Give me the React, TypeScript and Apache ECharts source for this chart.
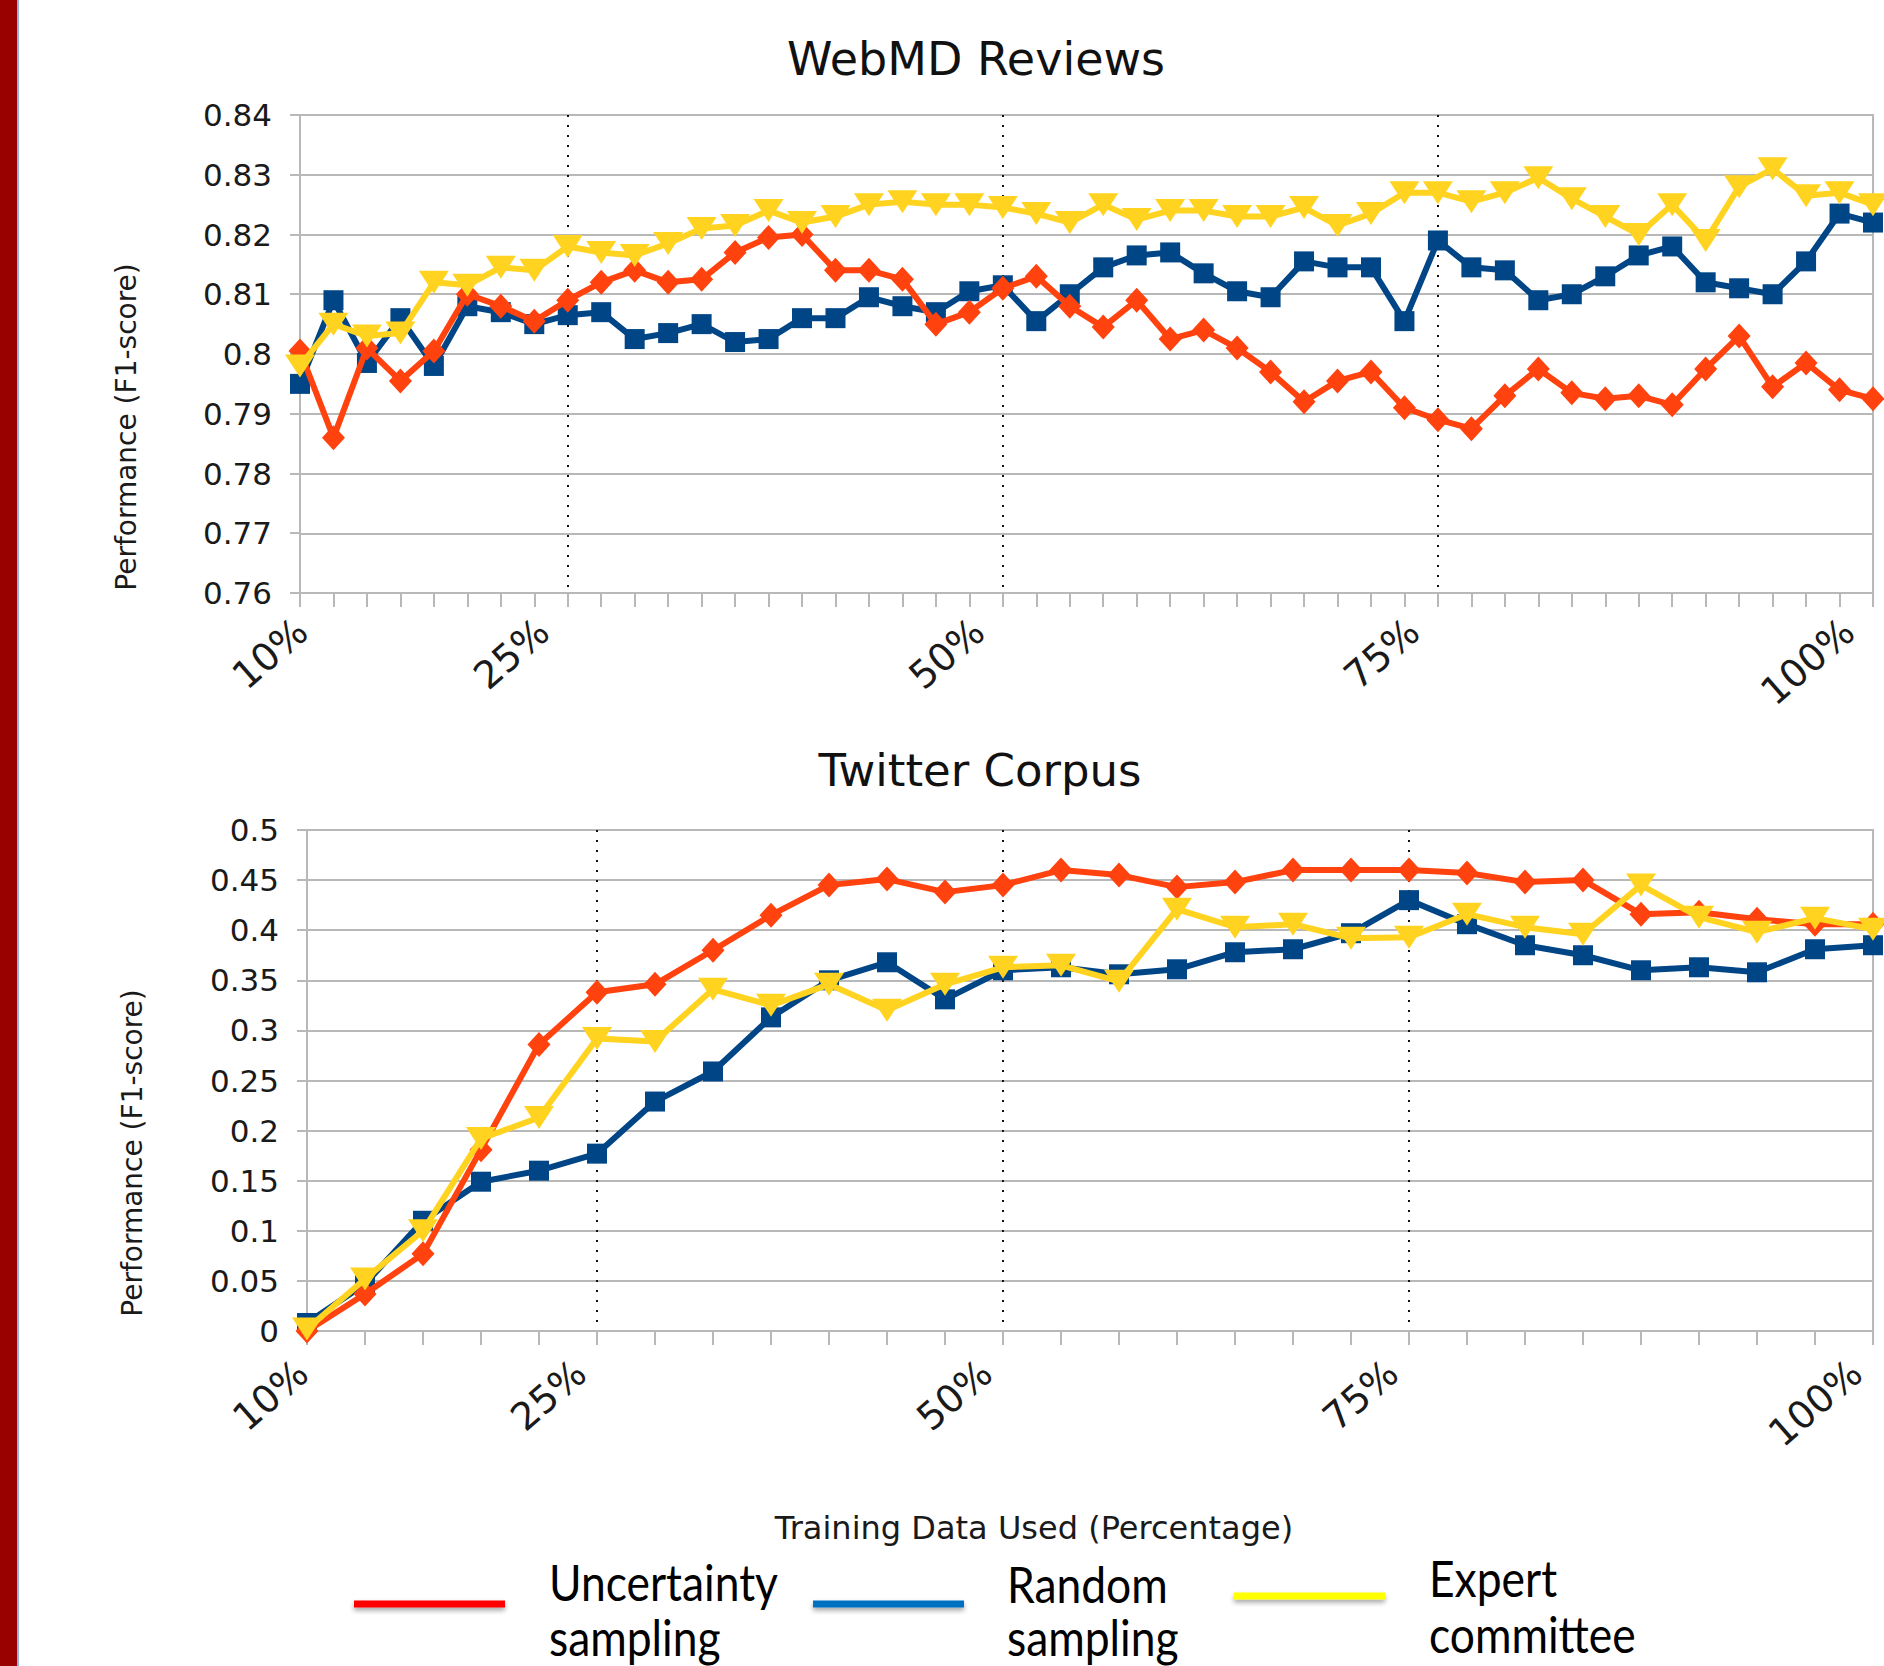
import React, { useEffect, useRef } from "react";
import * as echarts from "echarts";

// ---------- DATA ----------
// WebMD Reviews (48 steps of training data)
const webmdRandom = [
  0.795, 0.809, 0.7985, 0.806, 0.798, 0.808, 0.807, 0.805, 0.8065, 0.807,
  0.8025, 0.8035, 0.805, 0.802, 0.8025, 0.806, 0.806, 0.8095, 0.808, 0.807,
  0.8105, 0.8115, 0.8055, 0.81, 0.8145, 0.8165, 0.817, 0.8135, 0.8105, 0.8095,
  0.8155, 0.8145, 0.8145, 0.8055, 0.819, 0.8145, 0.814, 0.809, 0.81, 0.813,
  0.8165, 0.818, 0.812, 0.811, 0.81, 0.8155, 0.8235, 0.822,
];
const webmdUncertainty = [
  0.8005, 0.786, 0.801, 0.7955, 0.8005, 0.81, 0.808, 0.8055, 0.809, 0.812,
  0.814, 0.812, 0.8125, 0.817, 0.8195, 0.82, 0.814, 0.814, 0.8125, 0.805,
  0.807, 0.811, 0.813, 0.808, 0.8045, 0.809, 0.8025, 0.804, 0.801, 0.797,
  0.792, 0.7955, 0.797, 0.791, 0.789, 0.7875, 0.793, 0.7975, 0.7935, 0.7925,
  0.793, 0.7915, 0.7975, 0.803, 0.7945, 0.7985, 0.794, 0.7925,
];
const webmdExpert = [
  0.798, 0.805, 0.803, 0.8035, 0.812, 0.8115, 0.8145, 0.814, 0.818, 0.817,
  0.8165, 0.8185, 0.821, 0.8215, 0.824, 0.822, 0.823, 0.825, 0.8255, 0.825,
  0.825, 0.8245, 0.8235, 0.822, 0.825, 0.8225, 0.824, 0.824, 0.823, 0.823,
  0.8245, 0.8215, 0.8235, 0.827, 0.827, 0.8255, 0.827, 0.8295, 0.826, 0.823,
  0.82, 0.825, 0.819, 0.828, 0.831, 0.8265, 0.827, 0.825,
];

// Twitter Corpus (28 steps of training data)
const twitterRandom = [
  0.008, 0.047, 0.11, 0.149, 0.16, 0.177, 0.229, 0.259, 0.313, 0.35,
  0.368, 0.331, 0.36, 0.363, 0.356, 0.361, 0.378, 0.381, 0.397, 0.43,
  0.406, 0.385, 0.375, 0.36, 0.363, 0.358, 0.381, 0.385,
];
const twitterUncertainty = [
  0.0, 0.037, 0.077, 0.181, 0.286, 0.338, 0.346, 0.38, 0.415, 0.445,
  0.451, 0.438, 0.445, 0.46, 0.455, 0.443, 0.448, 0.46, 0.46, 0.46,
  0.457, 0.448, 0.45, 0.416, 0.418, 0.411, 0.406, 0.406,
];
const twitterExpert = [
  0.002, 0.052, 0.1, 0.192, 0.213, 0.292, 0.289, 0.341, 0.325, 0.346,
  0.32, 0.346, 0.363, 0.365, 0.349, 0.421, 0.403, 0.406, 0.392, 0.393,
  0.416, 0.403, 0.396, 0.445, 0.413, 0.398, 0.412, 0.401,
];

// tick labels (category index -> label) and dotted guide lines
const webmdTickIndex = [0, 8, 21, 34, 47];
const webmdTickLabels = ["10%", "25%", "50%", "75%", "100%"];
const webmdDottedIndex = [8, 21, 34];
const twitterTickIndex = [0, 5, 12, 19, 27];
const twitterTickLabels = ["10%", "25%", "50%", "75%", "100%"];
const twitterDottedIndex = [5, 12, 19];

const titles = ["WebMD Reviews", "Twitter Corpus"];
const yAxisName = "Performance (F1-score)";
const xAxisName = "Training Data Used (Percentage)";

const seriesNames = ["Random sampling", "Uncertainty sampling", "Expert committee"];
const seriesColors = ["#004586", "#ff420e", "#ffd320"];

const legendLine1 = ["Uncertainty", "Random", "Expert"];
const legendLine2 = ["sampling", "sampling", "committee"];
const legendColors = ["#ff0000", "#0070c0", "#ffff00"];

// ---------- STYLE ----------
const FONT = '"DejaVu Sans", "Liberation Sans", sans-serif';
const LEGEND_FONT = 'Lato, "Liberation Sans", sans-serif';
const GRID_COLOR = "#b8b8b8";
const TEXT_COLOR = "#1a1a1a";

function makeXAxis(
  gridIndex: number,
  n: number,
  tickIndex: number[],
  tickLabels: string[],
  dotted: number[],
  margin: number,
  padRight: number,
  firstPad: number[]
) {
  const cats = Array.from({ length: n }, (_, i) => String(i));
  const base = { fontSize: 38, fontFamily: FONT, color: TEXT_COLOR };
  return {
    type: "category",
    gridIndex,
    data: cats,
    boundaryGap: false,
    axisLine: { show: true, lineStyle: { color: GRID_COLOR, width: 2 } },
    axisTick: { show: true, interval: 0, length: 14, lineStyle: { color: GRID_COLOR, width: 2 } },
    axisLabel: {
      interval: (idx: number) => tickIndex.includes(idx),
      formatter: (_v: string, idx: number) => {
        const k = tickIndex.indexOf(idx);
        if (k < 0) return "";
        return k === 0 ? `{a|${tickLabels[k]}}` : `{b|${tickLabels[k]}}`;
      },
      rotate: 41,
      margin,
      ...base,
      rich: {
        a: { ...base, padding: firstPad },
        b: { ...base, padding: [0, padRight, 0, 0] },
      },
    },
    splitLine: {
      show: true,
      interval: (idx: number) => dotted.includes(idx),
      lineStyle: { color: "#111", width: 2, type: [2, 8] },
    },
  };
}

function makeYAxis(gridIndex: number, min: number, max: number, interval: number) {
  return {
    type: "value",
    gridIndex,
    min,
    max,
    interval,
    axisLine: { show: true, lineStyle: { color: GRID_COLOR, width: 2 } },
    axisTick: { show: true, length: 10, lineStyle: { color: GRID_COLOR, width: 2 } },
    axisLabel: {
      formatter: (v: number) => String(Math.round(v * 100) / 100),
      margin: 28,
      fontSize: 31,
      fontFamily: FONT,
      color: TEXT_COLOR,
    },
    splitLine: { show: true, lineStyle: { color: GRID_COLOR, width: 2 } },
  };
}

function makeSeries(idx: number, name: string, data: number[], color: string, grid: number) {
  const sym =
    idx === 0
      ? { symbol: "rect", symbolSize: 20 }
      : idx === 1
      ? { symbol: "diamond", symbolSize: [23, 25] }
      : { symbol: "triangle", symbolSize: [30, 23], symbolRotate: 180 };
  return {
    type: "line",
    name,
    xAxisIndex: grid,
    yAxisIndex: grid,
    data,
    showAllSymbol: true,
    ...sym,
    lineStyle: { color, width: 6 },
    itemStyle: { color },
    z: 2 + idx,
  };
}

export default function App() {
  const ref = useRef<HTMLDivElement>(null);

  useEffect(() => {
    document.body.style.margin = "0";
    if (!ref.current) return;
    const chart = echarts.init(ref.current, undefined, { renderer: "svg" });

    const legendX = [354, 813, 1234];
    const legendLineY = [1604, 1604, 1596];
    const legendTextX = [549, 1007, 1429];
    const legendText1Y = [1581, 1583, 1577];
    const legendText2Y = [1636, 1636, 1633];
    const legendScaleX = 0.87;

    const graphics: any[] = [
      { type: "rect", shape: { x: 0, y: 0, width: 17, height: 1666 }, style: { fill: "#990000" }, silent: true },
      { type: "rect", shape: { x: 17, y: 0, width: 2, height: 1666 }, style: { fill: "#8eb4e3" }, silent: true },
      {
        type: "text",
        style: {
          text: xAxisName,
          x: 1034,
          y: 1528,
          font: `32px ${FONT}`,
          fill: TEXT_COLOR,
          textAlign: "center",
          textVerticalAlign: "middle",
        },
      },
      {
        type: "text",
        x: 126,
        y: 427,
        rotation: Math.PI / 2,
        style: {
          text: yAxisName,
          x: 0,
          y: 0,
          font: `28px ${FONT}`,
          fill: TEXT_COLOR,
          textAlign: "center",
          textVerticalAlign: "middle",
        },
      },
      {
        type: "text",
        x: 132,
        y: 1153,
        rotation: Math.PI / 2,
        style: {
          text: yAxisName,
          x: 0,
          y: 0,
          font: `28px ${FONT}`,
          fill: TEXT_COLOR,
          textAlign: "center",
          textVerticalAlign: "middle",
        },
      },
    ];
    legendLine1.forEach((t, i) => {
      graphics.push({
        type: "rect",
        shape: { x: legendX[i], y: legendLineY[i] - 3.5, width: 151, height: 7 },
        style: {
          fill: legendColors[i],
          shadowBlur: 5,
          shadowOffsetY: 3,
          shadowColor: "rgba(0,0,0,0.35)",
        },
      });
      graphics.push({
        type: "text",
        x: legendTextX[i],
        y: legendText1Y[i],
        scaleX: legendScaleX,
        style: {
          text: t,
          x: 0,
          y: 0,
          font: `51px ${LEGEND_FONT}`,
          fill: "#000",
          textAlign: "left",
          textVerticalAlign: "middle",
        },
      });
      graphics.push({
        type: "text",
        x: legendTextX[i],
        y: legendText2Y[i],
        scaleX: legendScaleX,
        style: {
          text: legendLine2[i],
          x: 0,
          y: 0,
          font: `51px ${LEGEND_FONT}`,
          fill: "#000",
          textAlign: "left",
          textVerticalAlign: "middle",
        },
      });
    });

    const option: any = {
      animation: false,
      backgroundColor: "#ffffff",
      textStyle: { fontFamily: FONT },
      title: [
        {
          text: titles[0],
          left: 976,
          top: 36,
          padding: 0,
          textAlign: "center",
          textStyle: { fontSize: 46, fontWeight: "normal", fontFamily: FONT, color: "#111" },
        },
        {
          text: titles[1],
          left: 980,
          top: 748,
          padding: 0,
          textAlign: "center",
          textStyle: { fontSize: 45, fontWeight: "normal", fontFamily: FONT, color: "#111" },
        },
      ],
      grid: [
        { left: 300, top: 115, width: 1573, height: 478, show: true, borderColor: GRID_COLOR, borderWidth: 2, containLabel: false },
        { left: 307, top: 830, width: 1566, height: 501, show: true, borderColor: GRID_COLOR, borderWidth: 2, containLabel: false },
      ],
      xAxis: [
        makeXAxis(0, webmdRandom.length, webmdTickIndex, webmdTickLabels, webmdDottedIndex, 12, 32, [34, 12, 0, 0]),
        makeXAxis(1, twitterRandom.length, twitterTickIndex, twitterTickLabels, twitterDottedIndex, 22, 22, [16, 13, 0, 0]),
      ],
      yAxis: [makeYAxis(0, 0.76, 0.84, 0.01), makeYAxis(1, 0, 0.5, 0.05)],
      series: [
        makeSeries(0, seriesNames[0], webmdRandom, seriesColors[0], 0),
        makeSeries(1, seriesNames[1], webmdUncertainty, seriesColors[1], 0),
        makeSeries(2, seriesNames[2], webmdExpert, seriesColors[2], 0),
        makeSeries(0, seriesNames[0], twitterRandom, seriesColors[0], 1),
        makeSeries(1, seriesNames[1], twitterUncertainty, seriesColors[1], 1),
        makeSeries(2, seriesNames[2], twitterExpert, seriesColors[2], 1),
      ],
      graphic: graphics,
    };
    chart.setOption(option);
    return () => chart.dispose();
  }, []);

  return (
    <div
      ref={ref}
      style={{ position: "absolute", left: 0, top: 0, width: 1884, height: 1666, background: "#fff" }}
    />
  );
}
